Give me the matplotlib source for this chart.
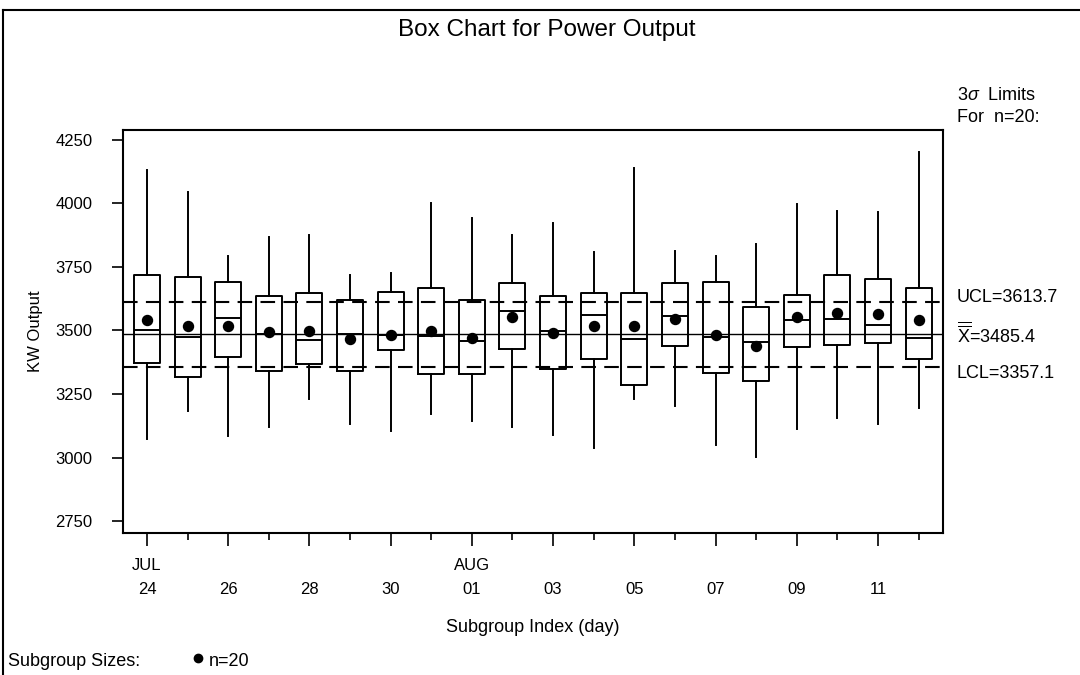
import matplotlib
matplotlib.use("Agg")
import matplotlib.pyplot as plt
from matplotlib.lines import Line2D
from matplotlib.ticker import FixedLocator

plt.rcParams["font.family"] = ["Liberation Sans", "DejaVu Sans"]
plt.rcParams["mathtext.fontset"] = "custom"
plt.rcParams["mathtext.rm"] = "Liberation Sans"
plt.rcParams["mathtext.it"] = "Liberation Sans:italic"

# subgroup days (Jul 24 .. Aug 12)
days = ["24", "25", "26", "27", "28", "29", "30", "31", "01", "02",
        "03", "04", "05", "06", "07", "08", "09", "10", "11", "12"]
months = {0: "JUL", 8: "AUG"}

whis_hi = [4132, 4046, 3795, 3869, 3875, 3717, 3728, 4001, 3942, 3876,
           3924, 3810, 4141, 3814, 3793, 3841, 3997, 3972, 3967, 4204]
q3 = [3717, 3711, 3690, 3637, 3646, 3620, 3650, 3666, 3620, 3687,
      3637, 3646, 3649, 3687, 3690, 3594, 3640, 3717, 3702, 3669]
med = [3502, 3473, 3549, 3488, 3463, 3486, 3483, 3480, 3459, 3578,
       3499, 3561, 3467, 3558, 3476, 3456, 3541, 3545, 3520, 3469]
q1 = [3373, 3318, 3396, 3342, 3369, 3340, 3422, 3328, 3328, 3428,
      3348, 3387, 3285, 3440, 3332, 3301, 3436, 3443, 3452, 3388]
whis_lo = [3073, 3183, 3085, 3121, 3229, 3132, 3104, 3171, 3144, 3119,
           3089, 3036, 3229, 3204, 3049, 3003, 3112, 3154, 3132, 3194]
means = [3541, 3518, 3519, 3493, 3498, 3465, 3484, 3499, 3472, 3554,
         3491, 3519, 3518, 3545, 3481, 3440, 3554, 3570, 3564, 3543]

ucl, center, lcl = 3613.7, 3485.4, 3357.1
yticks = [2750, 3000, 3250, 3500, 3750, 4000, 4250]

FS = 12     # tick labels
TS = 13     # other text

fig = plt.figure(figsize=(10.8, 6.75), dpi=100)
ax = fig.add_axes([123 / 1080, 142 / 675, 820 / 1080, 403 / 675])

stats = []
for i in range(len(days)):
    stats.append({"whislo": whis_lo[i], "q1": q1[i], "med": med[i], "q3": q3[i],
                  "whishi": whis_hi[i], "mean": means[i], "fliers": []})

pos = list(range(len(days)))
ax.bxp(stats, positions=pos, widths=0.64, showmeans=True, showcaps=False,
       showfliers=False,
       boxprops=dict(color="black", linewidth=1.4),
       medianprops=dict(color="black", linewidth=1.4),
       whiskerprops=dict(color="black", linewidth=1.4),
       meanprops=dict(marker="o", markerfacecolor="black", markeredgecolor="black",
                      markersize=7.2))

ax.axhline(center, color="black", linewidth=1.0, zorder=0.5)
ax.axhline(ucl, color="black", linewidth=1.5, dashes=(7, 4), zorder=0.5)
ax.axhline(lcl, color="black", linewidth=1.5, dashes=(7, 4), zorder=0.5)

ax.set_xlim(-0.59, 19.6)
ax.set_ylim(2703, 4289)
ax.set_yticks(yticks)
ax.set_yticklabels([str(v) for v in yticks], fontsize=FS)

major = [i for i in pos if i % 2 == 0]
minor = [i for i in pos if i % 2 == 1]
ax.set_xticks(major)
ax.set_xticklabels([days[i] for i in major], fontsize=FS)
ax.xaxis.set_minor_locator(FixedLocator(minor))
ax.tick_params(axis="x", which="major", length=9, width=1.2, pad=26, direction="out")
ax.tick_params(axis="x", which="minor", length=5, width=1.2, direction="out")
ax.tick_params(axis="y", length=8, width=1.2, pad=14, direction="out")
for s in ax.spines.values():
    s.set_linewidth(1.5)

for i, m in months.items():
    ax.text(i, -0.08, m, transform=ax.get_xaxis_transform(), ha="center",
            va="center", fontsize=FS)

ax.set_xlabel("Subgroup Index (day)", fontsize=TS, labelpad=16)
ax.set_ylabel("KW Output", fontsize=FS, labelpad=9)

# control-limit labels on the right
tr = ax.get_yaxis_transform()
ax.text(1.017, ucl + 15, "UCL=3613.7", transform=tr, va="center", fontsize=TS)
ax.text(1.017, center, r"$\overline{\overline{\mathrm{X}}}$=3485.4", transform=tr,
        va="center", fontsize=TS)
ax.text(1.017, lcl - 25, "LCL=3357.1", transform=tr, va="center", fontsize=TS)

fig.text(957 / 1080, 1 - 96 / 675, r"3$\sigma$  Limits", va="center", fontsize=TS)
fig.text(957 / 1080, 1 - 117 / 675, "For  n=20:", va="center", fontsize=TS)

fig.text(547 / 1080, 1 - 30 / 675, "Box Chart for Power Output", ha="center",
         va="center", fontsize=17.5)

# subgroup size legend
fig.text(8 / 1080, 1 - 661 / 675, "Subgroup Sizes:", va="center", fontsize=TS)
fig.add_artist(Line2D([198 / 1080], [1 - 658 / 675], marker="o", color="black",
                      markersize=6, transform=fig.transFigure))
fig.text(209 / 1080, 1 - 661 / 675, "n=20", va="center", fontsize=TS)

# page border (top and left)
fig.add_artist(Line2D([3 / 1080, 1], [1 - 10 / 675, 1 - 10 / 675], color="black",
                      linewidth=1.5, transform=fig.transFigure))
fig.add_artist(Line2D([3 / 1080, 3 / 1080], [0, 1 - 10 / 675], color="black",
                      linewidth=1.5, transform=fig.transFigure))

fig.savefig("out.png", dpi=100)
